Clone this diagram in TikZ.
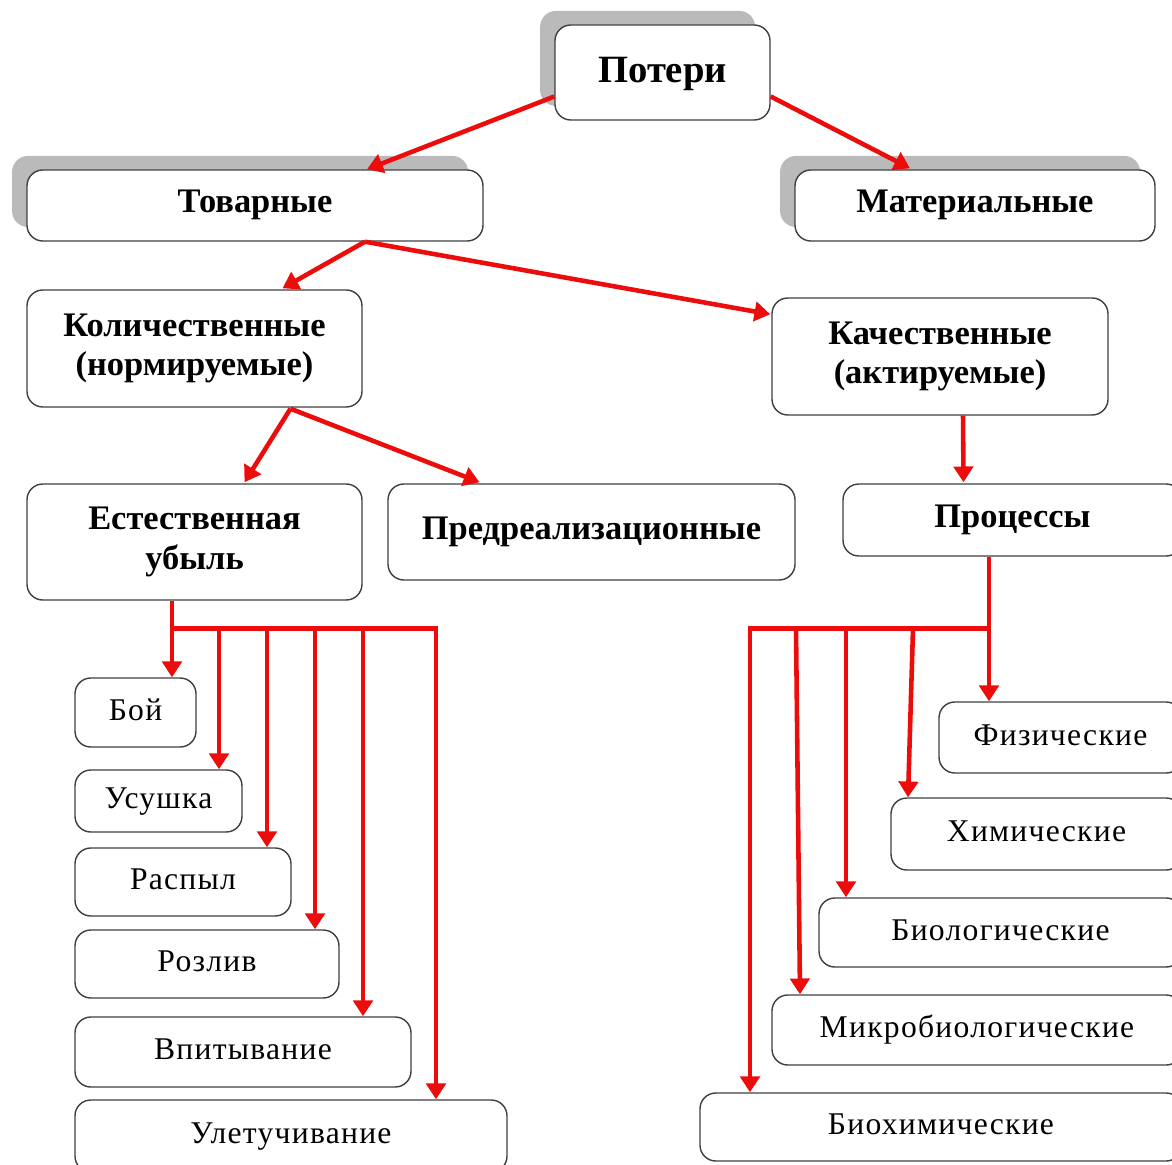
\documentclass[tikz,border=0pt]{standalone}
\usepackage{fontspec}
\setmainfont{Liberation Serif}
\usetikzlibrary{arrows.meta,calc,fit,shadows}
\definecolor{LossRed}{RGB}{237,12,12}
\colorlet{LossShadow}{black!27}
\tikzset{%
  box/.style={draw=black!75, line width=0.8pt, fill=white, rounded corners=9pt, inner sep=0pt},
  shadowed/.style={drop shadow={shadow xshift=-8.5pt, shadow yshift=8pt, fill=LossShadow, opacity=1}},
  head/.style={font=\bfseries\fontsize{19.6}{22.7}\selectfont},
  leaf/.style={font=\fontsize{18}{21}\selectfont\addfontfeature{LetterSpace=4}},
  link/.style={draw=LossRed, line width=2.6pt, -{Triangle[length=9pt,width=11pt]}},
  bus/.style={draw=LossRed, line width=2.6pt, line cap=rect}
}
% centred label, one or more lines
\newcommand{\Lbl}[1]{\raisebox{-0.25em}[0pt][0pt]{\begin{tabular}{@{}c@{}}#1\end{tabular}}}

\begin{document}
\begin{tikzpicture}[x=0.02cm, y=-0.02cm]
    \useasboundingbox (0,0) rectangle (1172,1165);
    \clip (0,0) rectangle (1172,1165);
    % Level 1:
    \node[box, shadowed, head, font=\bfseries\fontsize{22}{26}\selectfont, fit={(555,25) (770,120)}] (pot) {\Lbl{Потери}};
    \node[box, shadowed, head, fit={(27,170) (483,241)}] (tov) {\Lbl{Товарные}};
    \node[box, shadowed, head, fit={(795,170) (1155,241)}] (mat) {\Lbl{Материальные}};
    % Level 2:
    \node[box, head, fit={(27,290) (362,407)}] (kol) {\Lbl{Количественные\\(нормируемые)}};
    \node[box, head, fit={(772,298) (1108,415)}] (kach) {\Lbl{Качественные\\(актируемые)}};
    \node[box, head, fit={(27,484) (362,600)}] (est) {\Lbl{Естественная\\убыль}};
    \node[box, head, fit={(388,484) (795,580)}] (pred) {\Lbl{Предреализационные}};
    \node[box, head, fit={(843,484) (1182,556)}] (proc) {\Lbl{Процессы}};
    % Left leaves:
    \node[box, leaf, fit={(75,678) (196,747)}] (boy) {\Lbl{Бой}};
    \node[box, leaf, fit={(75,770) (242,832)}] (usu) {\Lbl{Усушка}};
    \node[box, leaf, fit={(75,848) (291,916)}] (ras) {\Lbl{Распыл}};
    \node[box, leaf, fit={(75,930) (339,998)}] (roz) {\Lbl{Розлив}};
    \node[box, leaf, fit={(75,1017) (411,1087)}] (vpi) {\Lbl{Впитывание}};
    \node[box, leaf, fit={(75,1100) (507,1172)}] (ule) {\Lbl{Улетучивание}};
    % Right leaves:
    \node[box, leaf, fit={(939,702) (1182,773)}] (fiz) {\Lbl{Физические}};
    \node[box, leaf, fit={(891,798) (1182,870)}] (him) {\Lbl{Химические}};
    \node[box, leaf, fit={(819,898) (1182,967)}] (bio) {\Lbl{Биологические}};
    \node[box, leaf, fit={(772,995) (1182,1065)}] (mic) {\Lbl{Микробиологические}};
    \node[box, leaf, fit={(700,1093) (1182,1161)}] (bhm) {\Lbl{Биохимические}};
    % arrows between levels
    \coordinate (tovfork) at ($(tov.south)+(110,0)$);
    \coordinate (kolfork) at ($(kol.south)+(96,1)$);
    \draw[link] ($(pot.west)+(0,24)$) -- ($(tov.north)+(112,0)$);
    \draw[link] ($(pot.east)+(0,24)$) -- ($(mat.north)+(-65,-1)$);
    \draw[link] (tovfork) -- ($(kol.north)+(88,-1)$);
    \draw[link] (tovfork) -- ($(kach.north west)+(-1,17)$);
    \draw[link] (kolfork) -- ($(est.north)+(50,-1)$);
    \draw[link] (kolfork) -- ($(pred.north)+(-112,-1)$);
    \draw[link] ($(kach.south)+(23,0)$) -- ($(proc.north)+(-49,-1)$);
    % Left bus:
    \coordinate (estout) at ($(est.south)+(-22.5,0)$);
    \coordinate (estbus) at ($(estout)+(0,28)$);
    \draw[link] (estout) -- (estout |- boy.north);
    \draw[bus] (estbus) -- ++(264,0);
    \foreach \dx/\leaf in {47/usu, 95/ras, 143/roz, 191/vpi, 264/ule} {
      \path ($(estbus)+(\dx,0)$) coordinate (tap);
      \draw[link] (tap) -- (tap |- \leaf.north);
    }
    % Right bus:
    \coordinate (procout) at ($(proc.south)+(-23.5,0)$);
    \coordinate (procbus) at ($(procout)+(0,72)$);
    \draw[link] (procout) -- (procout |- fiz.north);
    \draw[bus] (procbus) -- ++(-239,0);
    \foreach \dx/\leaf/\tilt in {-76/him/-5, -143/bio/0, -193/mic/4, -239/bhm/0} {
      \path ($(procbus)+(\dx,0)$) coordinate (tap);
      \draw[link] (tap) -- ($(tap |- \leaf.north)+(\tilt,0)$);
    }
\end{tikzpicture}
\end{document}
